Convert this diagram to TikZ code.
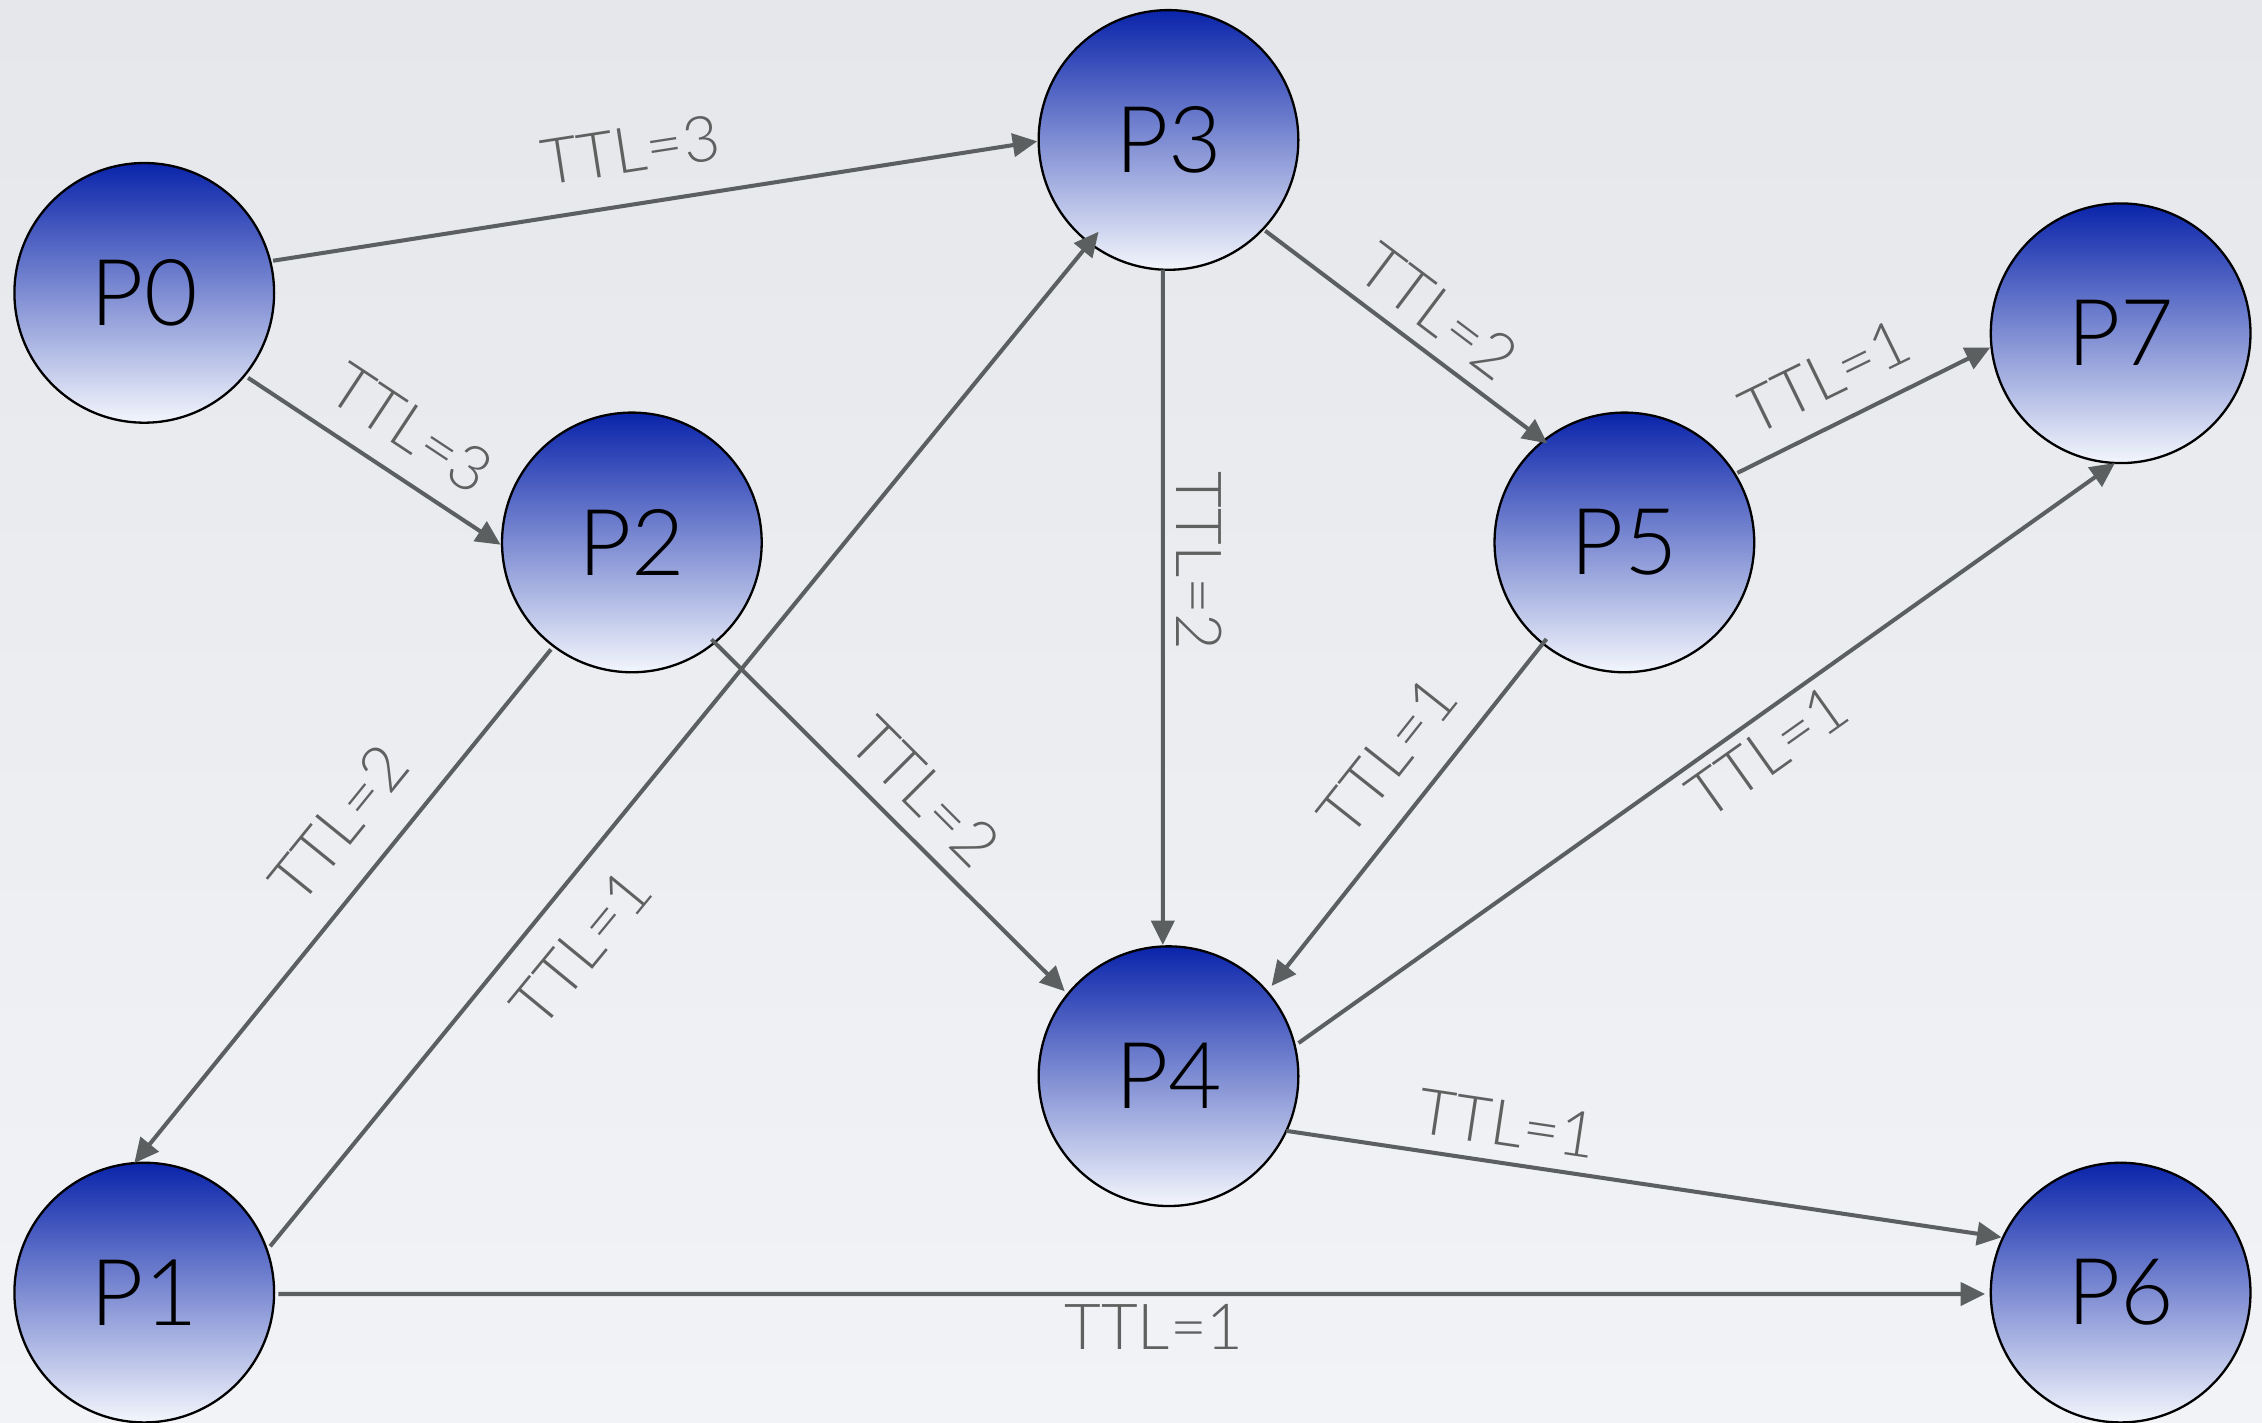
\documentclass[tikz,border=0pt]{standalone}
\usepackage{fontspec}
\setmainfont{Lato}[UprightFont=* Light]
\usetikzlibrary{arrows.meta,calc}

\definecolor{bgtop}{RGB}{229,231,235}
\definecolor{bgbot}{RGB}{242,243,246}
\definecolor{ballTop}{RGB}{10,36,170}
\definecolor{ballMid}{RGB}{118,134,206}
\definecolor{ballBot}{RGB}{243,246,252}
\definecolor{edgegray}{RGB}{92,95,95}
\definecolor{labelgray}{RGB}{95,97,97}

\tikzset{
  peer/.style={circle, draw=black, line width=0.8pt, minimum size=90pt, inner sep=0pt,
    top color=ballTop, middle color=ballMid, bottom color=ballBot,
    font=\fontsize{32}{36}\selectfont, text=black},
  edge/.style={draw=edgegray, line width=1.4pt,
    -{Triangle[length=8.5pt,width=8pt]}},
  ttl/.style={font=\fontsize{22}{26}\selectfont, text=labelgray, inner sep=0pt}
}

\begin{document}
\begin{tikzpicture}[x=0.5pt,y=0.5pt]
  % page and soft background
  \shade[top color=bgtop, bottom color=bgbot] (0,0) rectangle (1568,-986);
  \useasboundingbox (0,0) rectangle (1568,-986);

  % peers
  \node[peer] (P0) at (100,-203) {P0};
  \node[peer] (P3) at (810,-97)  {P3};
  \node[peer] (P2) at (438,-376) {P2};
  \node[peer] (P5) at (1126,-376) {P5};
  \node[peer] (P7) at (1470,-231) {P7};
  \node[peer] (P4) at (810,-746) {P4};
  \node[peer] (P1) at (100,-896) {P1};
  \node[peer] (P6) at (1470,-896) {P6};

  % query forwarding with decreasing TTL
  \draw[edge] ($(P0)+(14:92)$)    -- ($(P3)+(180.6:91)$);
  \draw[edge] ($(P0)+(-39.3:93)$) -- ($(P2)+(181:91)$);
  \draw[edge] ($(P2)+(232.9:93)$) -- ($(P1)+(94.4:90)$);
  \draw[edge] ($(P1)+(20.2:93)$)  -- ($(P3)+(232.7:80)$);
  \draw[edge] ($(P2)+(-50.6:87)$) -- ($(P4)+(140.7:93)$);
  \draw[edge] ($(P3)+(267.5:90)$) -- ($(P4)+(92.5:91)$);
  \draw[edge] ($(P3)+(-43.2:92)$) -- ($(P5)+(127.9:87)$);
  \draw[edge] ($(P5)+(31.6:92)$)  -- ($(P7)+(186.3:91)$);
  \draw[edge] ($(P5)+(231.1:86)$) -- ($(P4)+(41.2:95)$);
  \draw[edge] ($(P4)+(14.3:93)$)  -- ($(P7)+(267.5:90)$);
  \draw[edge] ($(P4)+(-24.9:90)$) -- ($(P6)+(155.1:91)$);
  \draw[edge] ($(P1)+(-0.6:93)$)  -- ($(P6)+(180.6:94)$);

  % TTL labels
  \node[ttl, rotate=8.8]   (t03) at (437,-104) {TTL=3};
  \node[ttl, rotate=-33.5] (t02) at (285,-297) {TTL=3};
  \node[ttl, rotate=51]    (t21) at (235,-571) {TTL=2};
  \node[ttl, rotate=50.6]  (t13) at (403,-657) {TTL=1};
  \node[ttl, rotate=-45]   (t24) at (641,-549) {TTL=2};
  \node[ttl, rotate=-90]   (t34) at (831,-389) {TTL=2};
  \node[ttl, rotate=-37]   (t35) at (997,-216) {TTL=2};
  \node[ttl, rotate=26]    (t57) at (1265,-261) {TTL=1};
  \node[ttl, rotate=51.6]  (t54) at (962,-524) {TTL=1};
  \node[ttl, rotate=35.4]  (t47) at (1225,-521) {TTL=1};
  \node[ttl, rotate=-8.5]  (t46) at (1045,-779) {TTL=1};
  \node[ttl]               (t16) at (800,-920) {TTL=1};
\end{tikzpicture}
\end{document}
